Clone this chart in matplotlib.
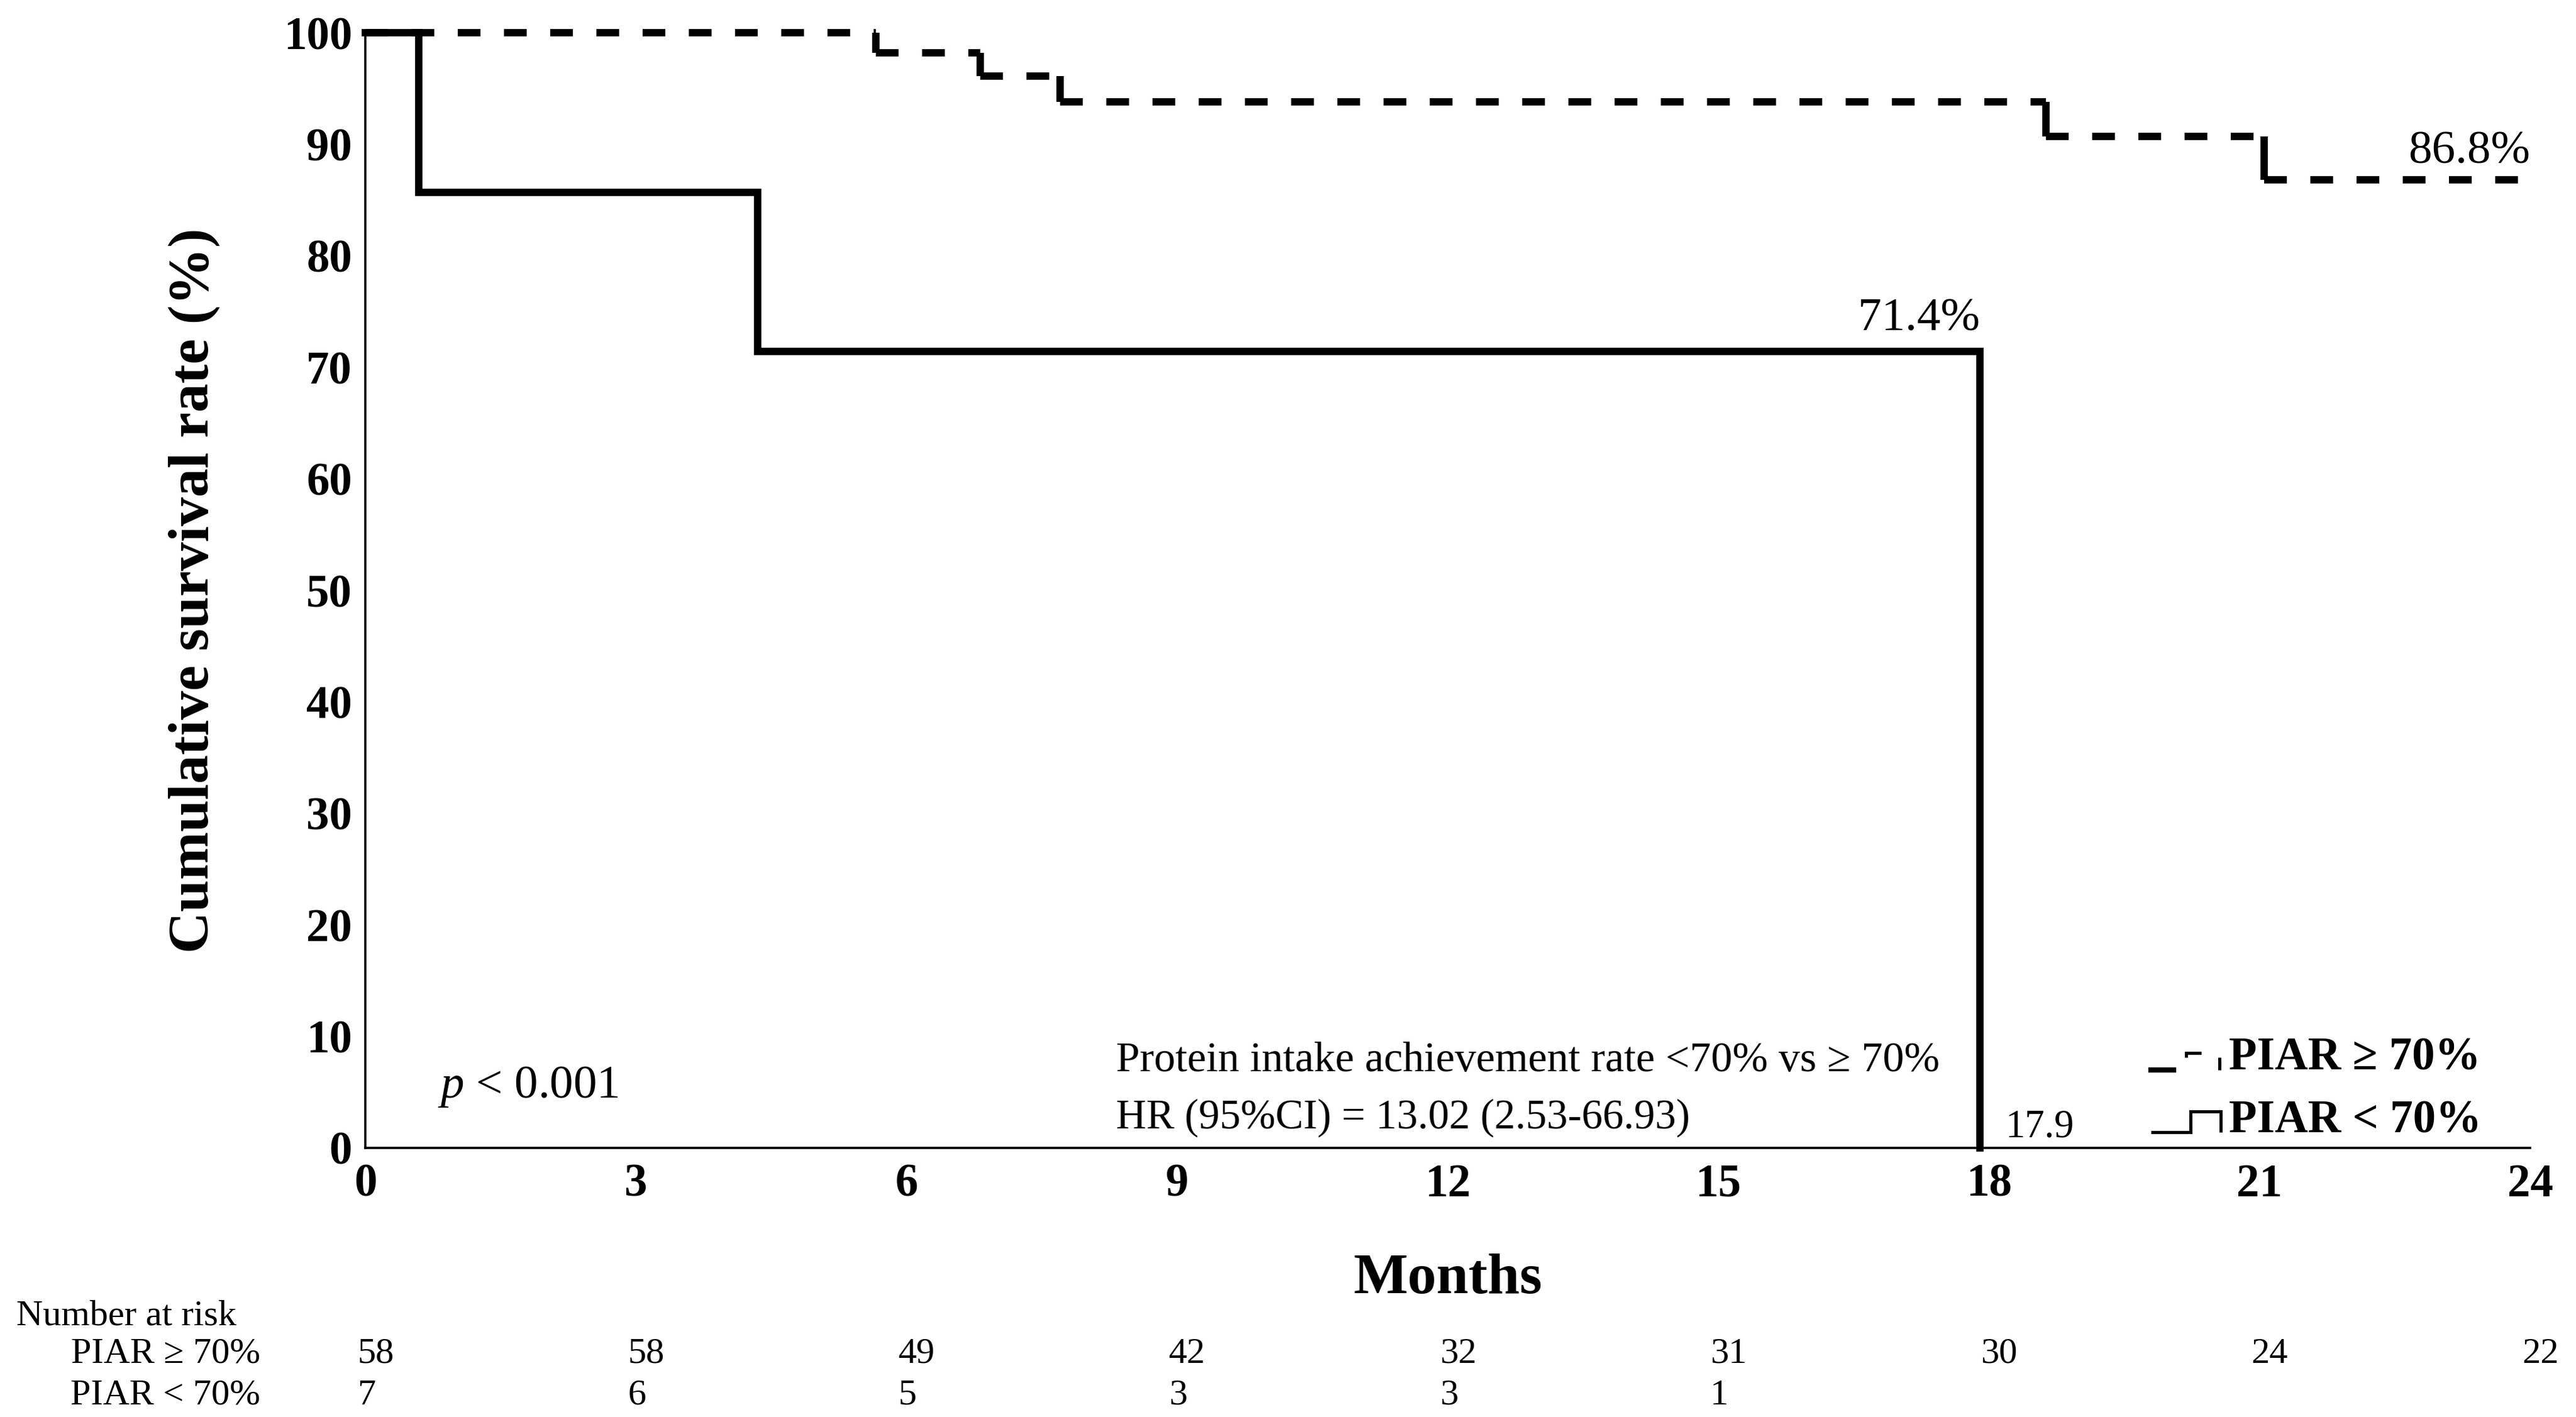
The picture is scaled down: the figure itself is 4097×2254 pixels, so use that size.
import matplotlib
matplotlib.use('Agg')
import matplotlib.pyplot as plt
from matplotlib.legend_handler import HandlerBase
from matplotlib.lines import Line2D
from matplotlib.transforms import blended_transform_factory

plt.rcParams['font.family'] = ['Liberation Serif', 'DejaVu Serif']
plt.rcParams['mathtext.fontset'] = 'custom'
plt.rcParams['mathtext.rm'] = 'Liberation Serif'
plt.rcParams['mathtext.it'] = 'Liberation Serif:italic'
plt.rcParams['mathtext.bf'] = 'Liberation Serif:bold'

# Kaplan-Meier steps
t_high = [0, 5.66, 6.82, 7.70, 18.63, 21.05]
s_high = [100, 98.2, 96.1, 93.8, 90.7, 86.8]
t_high_end = 24

t_low = [0, 0.59, 4.35, 17.9]
s_low = [100, 85.7, 71.4, 0]

months = [0, 3, 6, 9, 12, 15, 18, 21, 24]
risk_high = [58, 58, 49, 42, 32, 31, 30, 24, 22]
risk_low = [7, 6, 5, 3, 3, 1]

label_high = 'PIAR \u2265 70%'
label_low = 'PIAR < 70%'


class StepHandler(HandlerBase):
    # tiny step glyph like the one in the original legend
    def __init__(self, dashed):
        super().__init__()
        self.dashed = dashed

    def create_artists(self, legend, orig_handle, xdescent, ydescent,
                       width, height, fontsize, trans):
        w = width
        f = fontsize
        kw = dict(color='black', lw=1.2, transform=trans,
                  solid_joinstyle='miter', solid_capstyle='butt')
        if self.dashed:
            return [Line2D([0, 0.32 * w], [0, 0], lw=2.0, color='black', transform=trans),
                    Line2D([0.5 * w, 0.5 * w, 0.72 * w], [0.27 * f, 0.37 * f, 0.37 * f], **kw),
                    Line2D([0.98 * w, 0.98 * w], [0, 0.27 * f], **kw)]
        return [Line2D([0, 0.57 * w, 0.57 * w, w, w],
                       [0, 0, 0.45 * f, 0.45 * f, 0], **kw)]


fig = plt.figure(figsize=(4097 / 300, 2254 / 300), dpi=300)
ax = fig.add_axes([0.1418, 0.1899, 0.8404, 0.7870])

lw = 2.8
# PIAR >= 70%: dashed horizontals, solid drops
t_next = t_high[1:] + [t_high_end]
ax.hlines(s_high, t_high, t_next, colors='black', linewidth=lw,
          linestyles=(0, (3.1, 3.2)), clip_on=False)
ax.vlines(t_high[1:], s_high[1:], s_high[:-1], colors='black',
          linewidth=lw, clip_on=False)
# PIAR < 70%
ax.step(t_low, s_low, where='post', color='black', linewidth=lw,
        solid_joinstyle='miter', clip_on=False)

ax.set_xlim(0, 24)
ax.set_ylim(0, 100)
ax.set_xticks(months)
ax.set_yticks(range(0, 101, 10))
ax.tick_params(length=0, labelsize=17.5)
ax.tick_params(axis='x', pad=6)
ax.tick_params(axis='y', pad=5)
plt.setp(ax.get_xticklabels() + ax.get_yticklabels(), fontweight='bold')
for side in ['top', 'right']:
    ax.spines[side].set_visible(False)
for side in ['left', 'bottom']:
    ax.spines[side].set_linewidth(0.85)

ax.set_ylabel('Cumulative survival rate (%)', fontsize=22, fontweight='bold', va='center')
ax.yaxis.set_label_coords(-0.079, 0.5)
ax.set_xlabel('Months', fontsize=22, fontweight='bold', va='center')
ax.xaxis.set_label_coords(0.5, -0.118)

# annotations
ax.text(t_low[-1], 73.3, f'{s_low[-2]}%', ha='right', va='baseline', fontsize=18)
ax.text(t_high_end, 88.3, f'{s_high[-1]}%', ha='right', va='baseline', fontsize=18)
ax.text(t_low[-1] + 0.28, 1.0, f'{t_low[-1]}', ha='left', va='baseline', fontsize=15)
ax.text(0.8, 4.5, r'$p$ < 0.001', ha='left', va='baseline', fontsize=18)
ax.text(8.32, 6.9, 'Protein intake achievement rate <70% vs \u2265 70%',
        ha='left', va='baseline', fontsize=16.3)
ax.text(8.32, 1.75, 'HR (95%CI) = 13.02 (2.53-66.93)',
        ha='left', va='baseline', fontsize=16)

h_high = Line2D([], [])
h_low = Line2D([], [])
ax.legend([h_high, h_low], [label_high, label_low],
          handler_map={h_high: StepHandler(True), h_low: StepHandler(False)},
          loc='lower left', bbox_to_anchor=(0.8249, 0.005), frameon=False,
          prop={'size': 17.5, 'weight': 'bold'}, handlelength=1.52,
          handletextpad=0.18, labelspacing=0.43, borderpad=0, borderaxespad=0)

# number at risk table
tr = blended_transform_factory(ax.transData, fig.transFigure)
fig.text(0.0063, 0.0652, 'Number at risk', ha='left', va='baseline', fontsize=14)
fig.text(0.101, 0.0382, label_high, ha='right', va='baseline', fontsize=14)
fig.text(0.101, 0.0089, label_low, ha='right', va='baseline', fontsize=14)
for m, n in zip(months, risk_high):
    ax.text(m - 0.09, 0.0382, str(n), transform=tr, ha='left', va='baseline', fontsize=14)
for m, n in zip(months, risk_low):
    ax.text(m - 0.09, 0.0089, str(n), transform=tr, ha='left', va='baseline', fontsize=14)

fig.savefig('out.png', dpi=300)
